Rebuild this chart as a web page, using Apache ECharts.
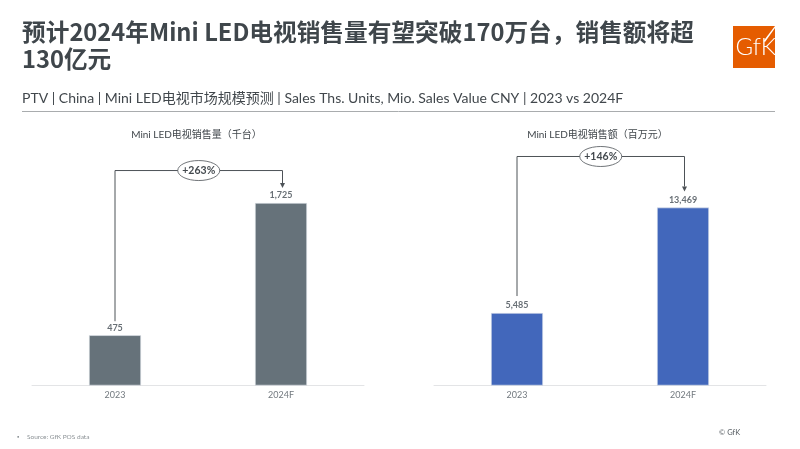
<!DOCTYPE html>
<html>
<head>
<meta charset="utf-8">
<title>Mini LED</title>
<style>html,body{margin:0;padding:0;background:#fff}#main{width:800px;height:449px}</style>
</head>
<body>
<div id="main"></div>
<script src="https://cdn.jsdelivr.net/npm/echarts@6/dist/echarts.min.js"></script>
<script>
var categories = ['2023', '2024F'];
var unitValues = [475, 1725];
var salesValues = [5485, 13469];
var chartTitles = ['Mini LED电视销售量（千台）', 'Mini LED电视销售额（百万元）'];
var growthLabels = ['+263%', '+146%'];
// height of the growth bracket, in each chart's own axis units
var bracketLevels = [2032, 17335];
var headline = '预计2024年Mini LED电视销售量有望突破170万台，销售额将超\n130亿元';
var subhead = 'PTV | China | Mini LED电视市场规模预测 | Sales Ths. Units, Mio. Sales Value CNY | 2023 vs 2024F';
var source = 'Source: GfK POS data';
var copyright = '© GfK';

var FONT = 'Lato, "Noto Sans CJK SC", sans-serif';
var LINE = '#4d5257';

function barSeries(idx, values, color) {
	return {
		type: 'bar',
		xAxisIndex: idx,
		yAxisIndex: idx,
		data: values,
		barWidth: 52,
		itemStyle: { color: color, borderColor: '#e4e7ee', borderWidth: 0.6 },
		label: {
			show: true,
			position: 'top',
			distance: 3,
			fontFamily: FONT,
			fontSize: 9,
			fontWeight: 'bold',
			color: '#686f75',
			formatter: function (p) { return p.value.toLocaleString('en-US'); }
		},
		silent: true
	};
}

// bracket from the first bar up and over to the second, with the growth oval on top
function bracketSeries(idx, values, stopAbove) {
	return {
		type: 'custom',
		xAxisIndex: idx,
		yAxisIndex: idx,
		silent: true,
		z: 5,
		data: [[0, values[0], 1, values[1], bracketLevels[idx]]],
		renderItem: function (params, api) {
			var a = api.coord([api.value(0), api.value(1)]);
			var b = api.coord([api.value(2), api.value(3)]);
			var top = api.coord([0, api.value(4)])[1];
			var x0 = a[0], x1 = b[0] + 1.5, mid = (x0 + x1) / 2;
			var style = { stroke: LINE, fill: null, lineWidth: 1 };
			return {
				type: 'group',
				children: [
					{ type: 'polyline', shape: { points: [[x0, a[1] - stopAbove[0]], [x0, top], [x1, top], [x1, b[1] - stopAbove[1] - 5]] }, style: style },
					{ type: 'polygon', shape: { points: [[x1 - 2.5, b[1] - stopAbove[1] - 5], [x1 + 2.5, b[1] - stopAbove[1] - 5], [x1, b[1] - stopAbove[1]]] }, style: { fill: LINE } },
					{ type: 'ellipse', shape: { cx: mid, cy: top, rx: 21, ry: 10 }, style: { fill: '#fff', stroke: LINE, lineWidth: 0.8 } },
					{ type: 'text', x: mid, y: top, style: { text: growthLabels[idx], x: 0, y: 0, align: 'center', verticalAlign: 'middle', font: 'bold 10.5px ' + FONT, fill: '#43494e' } }
				]
			};
		}
	};
}

function xAxis(idx) {
	return {
		type: 'category',
		gridIndex: idx,
		data: categories,
		axisLine: { lineStyle: { color: '#e3e4e6', width: 1 } },
		axisTick: { show: false },
		axisLabel: { fontFamily: FONT, fontSize: 9, color: '#72797f', margin: 5 }
	};
}

function yAxis(idx, max) {
	return { type: 'value', gridIndex: idx, min: 0, max: max, show: false, splitLine: { show: false } };
}

var myChart = echarts.init(document.getElementById('main'));
myChart.setOption({
	animation: false,
	backgroundColor: '#fff',
	textStyle: { fontFamily: FONT },
	title: [
		{ text: headline, padding: 0, left: 22, top: 18, textStyle: { fontFamily: '"Noto Sans CJK SC", sans-serif', fontSize: 23.7, fontWeight: 'bold', color: '#3f464b', lineHeight: 27.5 } },
		{ text: subhead, padding: 0, left: 22, top: 91, textStyle: { fontFamily: FONT, fontSize: 14, fontWeight: 'normal', color: '#41474c' } },
		{ text: chartTitles[0], padding: 0, left: 196.5, textAlign: 'center', top: 130, textStyle: { fontFamily: FONT, fontSize: 10, fontWeight: 'normal', color: '#41474c' } },
		{ text: chartTitles[1], padding: 0, left: 597.5, textAlign: 'center', top: 130, textStyle: { fontFamily: FONT, fontSize: 10, fontWeight: 'normal', color: '#41474c' } },
		{ text: '▪', padding: 0, left: 17, top: 434, textStyle: { fontSize: 6, fontWeight: 'normal', color: '#8c9296' } },
		{ text: source, padding: 0, left: 27, top: 434, textStyle: { fontFamily: FONT, fontSize: 6.5, fontWeight: 'normal', color: '#8c9296' } },
		{ text: copyright, padding: 0, left: 719, top: 429, textStyle: { fontFamily: FONT, fontSize: 7.5, fontWeight: 'normal', color: '#555b60' } }
	],
	grid: [
		{ left: 32, width: 332, top: 131.6, height: 253.9 },
		{ left: 434, width: 332, top: 147.7, height: 237.8 }
	],
	xAxis: [xAxis(0), xAxis(1)],
	yAxis: [yAxis(0, 2400), yAxis(1, 18000)],
	series: [
		barSeries(0, unitValues, '#66727a'),
		barSeries(1, salesValues, '#4267bb'),
		bracketSeries(0, unitValues, [14, 15]),
		bracketSeries(1, salesValues, [17, 16])
	],
	graphic: [
		{ type: 'line', shape: { x1: 22, y1: 111.5, x2: 775, y2: 111.5 }, style: { stroke: '#a9acae', lineWidth: 1 } },
		{ type: 'rect', shape: { x: 733, y: 26, width: 42, height: 42 }, style: { fill: '#e55c00' } },
		{ type: 'polygon', shape: { points: [[775, 26], [775, 28], [765, 42], [763.5, 41]] }, style: { fill: '#fff' } },
		{ type: 'text', x: 735.5, y: 35, style: { text: 'GfK', font: '300 24px Lato, sans-serif', fill: '#fff' } }
	]
});
</script>
</body>
</html>
